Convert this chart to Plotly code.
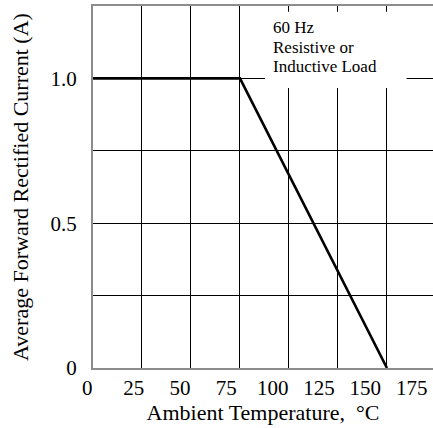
import plotly.graph_objects as go

# Data
temp_c = [0, 75, 150]
current_a = [1.0, 1.0, 0.0]
x_grid = [0, 25, 50, 75, 100, 125, 150]
x_tick_labels = ["0", "25", "50", "75", "100", "125", "150", "175"]
x_tick_vals = [0, 25, 50, 75, 100, 125, 150, 175]
y_grid = [0, 0.25, 0.5, 0.75, 1.0, 1.25]
y_tick_text = ["0", "", "0.5", "", "1.0", ""]
note_lines = ["60 Hz", "Resistive or", "Inductive Load"]

W, H = 433, 428
FONT = "Liberation Serif"

fig = go.Figure()
fig.add_trace(go.Scatter(x=temp_c, y=current_a, mode="lines",
                         line=dict(color="black", width=2.6),
                         showlegend=False, hoverinfo="skip"))
# invisible trace hosting the label axis
fig.add_trace(go.Scatter(x=[], y=[], xaxis="x2", yaxis="y2", showlegend=False))

fig.update_layout(
    width=W, height=H,
    margin=dict(l=0, r=0, t=6, b=60),
    paper_bgcolor="white",
    plot_bgcolor="rgba(0,0,0,0)",
    font=dict(family=FONT, color="black", size=21),
    xaxis=dict(domain=[93 / W, 1], range=[0, 173.5],
               tickvals=x_grid, showticklabels=False, ticks="",
               showgrid=True, gridcolor="black", gridwidth=1.1,
               zeroline=False, showline=True, linecolor="#8c8c8c",
               linewidth=2, mirror=True,
               title=dict(text="Ambient Temperature,  \u00b0C",
                          font=dict(size=22, family=FONT), standoff=36)),
    yaxis=dict(domain=[0, 1], range=[0, 1.25],
               tickvals=y_grid, ticktext=y_tick_text, ticks="",
               ticklabelstandoff=10,
               showgrid=True, gridcolor="black", gridwidth=1.1,
               zeroline=False, showline=True, linecolor="#8c8c8c",
               linewidth=2, mirror=False,
               tickfont=dict(size=21, family=FONT),
               title=dict(text="Average Forward Rectified Current (A)",
                          font=dict(size=22, family=FONT), standoff=16)),
    xaxis2=dict(domain=[80 / W, 1], range=[-3.94, 186.5], anchor="y2",
                tickvals=x_tick_vals, ticktext=x_tick_labels, ticks="",
                showgrid=False, zeroline=False, showline=False,
                ticklabelstandoff=5,
                tickfont=dict(size=21, family=FONT)),
    yaxis2=dict(domain=[0, 1], range=[0, 1.25], anchor="x2",
                visible=False, showgrid=False),
)

# white label box over the grid
fig.add_shape(type="rect", xref="x", yref="y", x0=87.8, x1=160, y0=0.967, y1=1.23,
              fillcolor="white", line=dict(width=0), layer="between")

note_y = [1.176, 1.107, 1.042]
for txt, yy in zip(note_lines, note_y):
    fig.add_annotation(x=90.7, y=yy, xref="x", yref="y", text=txt,
                       showarrow=False, xanchor="left", yanchor="middle",
                       font=dict(size=17, family=FONT, color="black"))

fig.write_html("out.html")
